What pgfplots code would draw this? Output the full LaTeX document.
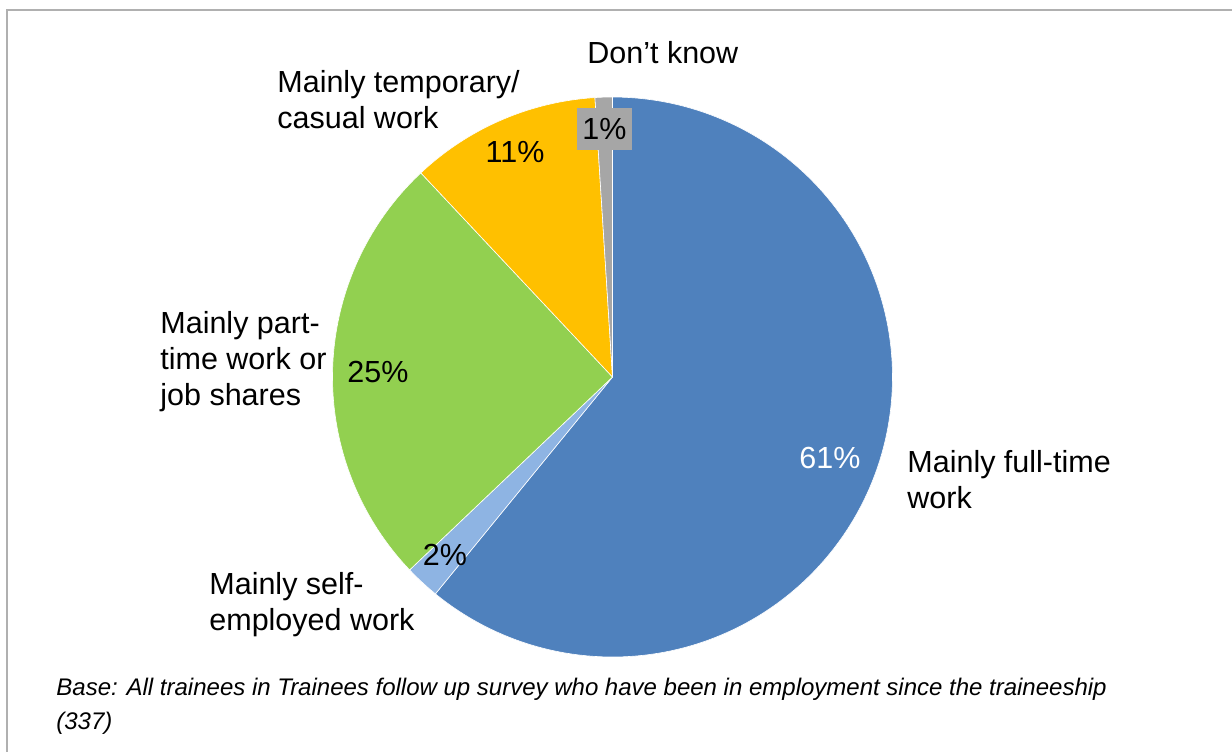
\documentclass[border=0pt]{standalone}
\usepackage{pgfplots}
\pgfplotsset{compat=1.18}
\usepackage{fontspec}
\setmainfont{Liberation Sans}
\definecolor{cFull}{HTML}{4F81BD}
\definecolor{cSelf}{HTML}{8EB4E3}
\definecolor{cPart}{HTML}{92D050}
\definecolor{cTemp}{HTML}{FFC000}
\definecolor{cDK}{HTML}{A6A6A6}
\definecolor{cFrame}{HTML}{B0B0B0}
% shares (%), clockwise from 12 o'clock
\def\vFull{60.9}
\def\vSelf{2.0}
\def\vPart{25.1}
\def\vTemp{11.0}
\def\vDK{1.0}
\pgfmathsetmacro\aA{0}
\pgfmathsetmacro\aB{3.6*\vFull}
\pgfmathsetmacro\aC{\aB+3.6*\vSelf}
\pgfmathsetmacro\aD{\aC+3.6*\vPart}
\pgfmathsetmacro\aE{\aD+3.6*\vTemp}
\pgfmathsetmacro\aF{\aE+3.6*\vDK}
\def\cx{612.5}
\def\cy{377}
\def\rr{280}
\begin{document}
\begin{tikzpicture}[every node/.style={font=\fontsize{15.25}{18}\selectfont, inner sep=0pt}]
\begin{axis}[
  width=616pt, height=375.5pt, scale only axis,
  xmin=0, xmax=1232, ymin=0, ymax=751, y dir=reverse,
  hide axis, clip=false,
]
\coordinate (BL) at (rel axis cs:0,0);
\coordinate (TR) at (rel axis cs:1,1);
\draw[cFrame, line width=1pt] (axis cs:7,780) -- (axis cs:7,10) -- (axis cs:1260,10);
\addplot[fill=cFull, draw=white, line width=0.3pt, domain=\aA:\aB, samples=150, variable=\t]
  ({\cx+\rr*sin(\t)}, {\cy-\rr*cos(\t)}) -- (axis cs:\cx,\cy) -- cycle;
\addplot[fill=cSelf, draw=white, line width=0.3pt, domain=\aB:\aC, samples=10, variable=\t]
  ({\cx+\rr*sin(\t)}, {\cy-\rr*cos(\t)}) -- (axis cs:\cx,\cy) -- cycle;
\addplot[fill=cPart, draw=white, line width=0.3pt, domain=\aC:\aD, samples=80, variable=\t]
  ({\cx+\rr*sin(\t)}, {\cy-\rr*cos(\t)}) -- (axis cs:\cx,\cy) -- cycle;
\addplot[fill=cTemp, draw=white, line width=0.3pt, domain=\aD:\aE, samples=40, variable=\t]
  ({\cx+\rr*sin(\t)}, {\cy-\rr*cos(\t)}) -- (axis cs:\cx,\cy) -- cycle;
\addplot[fill=cDK, draw=white, line width=0.3pt, domain=\aE:\aF, samples=10, variable=\t]
  ({\cx+\rr*sin(\t)}, {\cy-\rr*cos(\t)}) -- (axis cs:\cx,\cy) -- cycle;
% data labels
\node[fill=cDK, minimum width=27.5pt, minimum height=21pt] at (axis cs:604.5,129) {1\%};
\node at (axis cs:515,152) {11\%};
\node at (axis cs:378,372) {25\%};
\node[text=white] at (axis cs:830,458) {61\%};
\node at (axis cs:445,555) {2\%};
% category labels
\node[anchor=west] at (axis cs:587,53) {Don’t know};
\node[anchor=west, align=left] at (axis cs:277,100) {Mainly temporary/\\casual work};
\node[anchor=west, align=left] at (axis cs:160,362) {Mainly part-\\time work or\\job shares};
\node[anchor=west, align=left] at (axis cs:907,479.5) {Mainly full-time\\work};
\node[anchor=west, align=left] at (axis cs:209,604.5) {Mainly self-\\employed work};
\node[anchor=west, align=left, font=\fontsize{12}{17}\selectfont\itshape] at (axis cs:56,706) {Base: All trainees in Trainees follow up survey who have been in employment since the traineeship\\(337)};
\end{axis}
\pgfresetboundingbox
\useasboundingbox (BL) rectangle (TR);
\end{tikzpicture}
\end{document}
